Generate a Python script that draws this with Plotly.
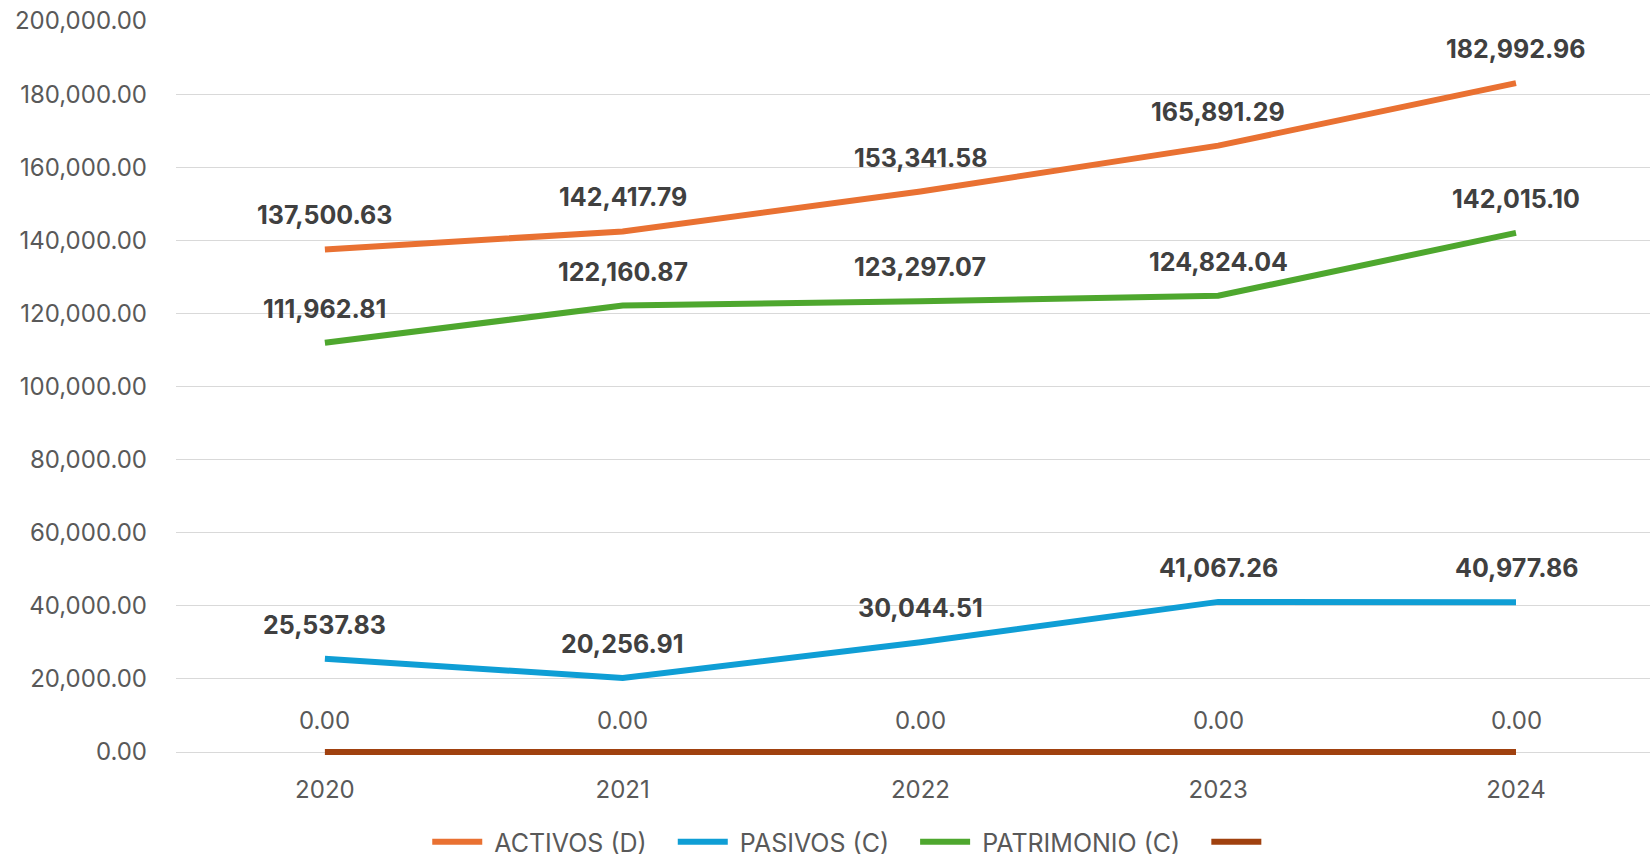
import plotly.graph_objects as go

years = ["2020", "2021", "2022", "2023", "2024"]
activos = [137500.63, 142417.79, 153341.58, 165891.29, 182992.96]
pasivos = [25537.83, 20256.91, 30044.51, 41067.26, 40977.86]
patrimonio = [111962.81, 122160.87, 123297.07, 124824.04, 142015.10]
cuarta = [0, 0, 0, 0, 0]

names = ["ACTIVOS (D)", "PASIVOS (C)", "PATRIMONIO (C)", ""]
colors = ["#E97132", "#0F9ED5", "#4EA72E", "#A0410F"]
series = [activos, pasivos, patrimonio, cuarta]

FONT = "Inter, Roboto, sans-serif"
NB = "\u00a0"

fig = go.Figure()
annotations = []
for i, (nm, col, vals) in enumerate(zip(names, colors, series)):
    bold = i < 3
    shown = (NB + nm + NB * 3) if nm else nm
    fig.add_trace(go.Scatter(
        x=years, y=vals, name=shown, mode="lines",
        line=dict(color=col, width=6),
        cliponaxis=False,
    ))
    for j, v in enumerate(vals):
        txt = f"{v:,.2f}"
        annotations.append(dict(
            x=j, y=v, xref="x", yref="y",
            text=f"<b>{txt}</b>" if bold else txt,
            showarrow=False, yshift=34 if bold else 32,
            font=dict(family=FONT, size=25 if bold else 24,
                      color="#404040" if bold else "#595959"),
        ))

fig.update_layout(
    width=1650, height=857,
    margin=dict(l=176, r=0, t=21, b=102, autoexpand=False),
    plot_bgcolor="white", paper_bgcolor="white",
    font=dict(family=FONT, size=24, color="#595959"),
    showlegend=True,
    annotations=annotations,
    legend=dict(orientation="h", x=0.515, xanchor="center", xref="container",
                y=0.0175, yanchor="middle", yref="container",
                font=dict(family=FONT, size=25, color="#595959"),
                itemwidth=50, tracegroupgap=0),
    xaxis=dict(type="category", range=[-0.5, 4.45], showgrid=False, showline=False,
               zeroline=False, ticks="", tickfont=dict(size=24, color="#595959"),
               ticklabelstandoff=18, automargin=False),
    yaxis=dict(range=[-821, 200000], tick0=0, dtick=20000, tickformat=",.2f",
               gridcolor="#D9D9D9", gridwidth=1.3, zeroline=False, showline=False,
               tickfont=dict(size=24, color="#595959"), ticklabelstandoff=28,
               automargin=False),
)

fig.write_html("out.html", post_script="document.body.style.margin='0';",
               config={"displayModeBar": False})
